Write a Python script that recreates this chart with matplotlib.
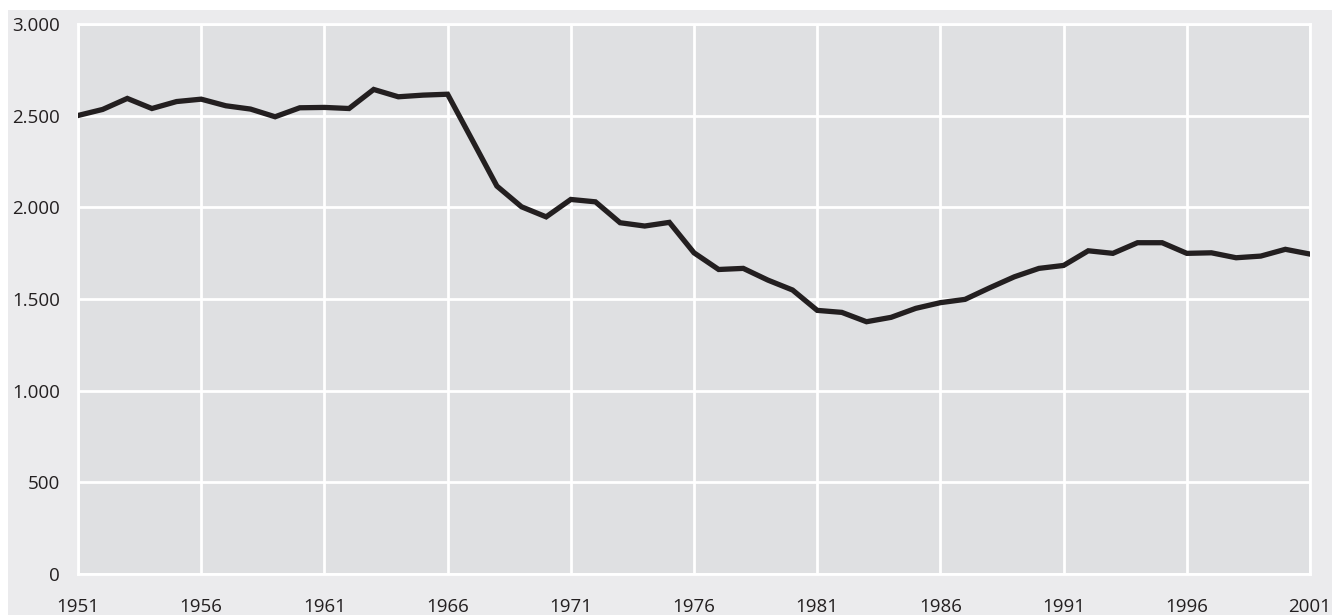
import matplotlib

matplotlib.use("Agg")
import matplotlib.pyplot as plt
from matplotlib.patches import Rectangle
from matplotlib.ticker import FuncFormatter

years = list(range(1951, 2002))
values = [
    2501, 2534, 2594, 2539, 2577, 2590, 2554, 2536, 2494, 2543,
    2545, 2539, 2643, 2603, 2612, 2617, 2367, 2116, 2003, 1948,
    2043, 2030, 1916, 1898, 1918, 1752, 1661, 1667, 1603, 1549,
    1438, 1427, 1376, 1400, 1449, 1480, 1498, 1561, 1621, 1667,
    1683, 1763, 1749, 1807, 1807, 1749, 1752, 1725, 1734, 1771,
    1745,
]
x_ticks = list(range(1951, 2002, 5))
y_ticks = [0, 500, 1000, 1500, 2000, 2500, 3000]

W, H = 1332, 615
plt.rcParams["font.family"] = ["Open Sans", "DejaVu Sans"]

fig = plt.figure(figsize=(W / 100, H / 100), dpi=100, facecolor="white")
# outer light grey panel, kept behind the axes
fig.add_artist(Rectangle((8 / W, 0), 1 - 8 / W, 1 - 10 / H,
                         transform=fig.transFigure, facecolor="#ebebed",
                         edgecolor="none", zorder=-10))

ax = fig.add_axes([78 / W, (H - 574) / H, (1310 - 78) / W, (574 - 24) / H])
ax.set_facecolor("#dfe0e2")
ax.plot(years, values, color="#231f20", lw=3.8, solid_joinstyle="miter", zorder=3)

ax.set_xlim(1951, 2001)
ax.set_ylim(0, 3000)
ax.set_xticks(x_ticks)
ax.set_yticks(y_ticks)
ax.yaxis.set_major_formatter(FuncFormatter(lambda v, _: f"{int(v):,}".replace(",", ".")))
ax.grid(True, color="white", lw=2)
ax.set_axisbelow(True)
for s in ax.spines.values():
    s.set_color("white")
    s.set_linewidth(2)
ax.tick_params(length=0, labelsize=13.5, colors="#231f20")
ax.tick_params(axis="y", pad=13)
ax.tick_params(axis="x", pad=17)

fig.savefig("out.png", dpi=100, facecolor="white")
